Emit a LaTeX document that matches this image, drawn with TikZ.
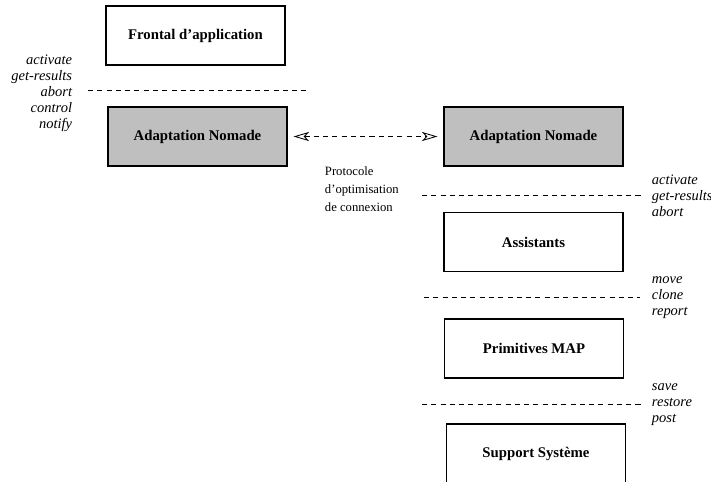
\documentclass[tikz,border=0pt]{standalone}
\usepackage{fontspec}
\setmainfont{Liberation Serif}
\usetikzlibrary{arrows.meta}

\tikzset{
    couche/.style={draw, line width=.8pt, minimum width=4.475cm, minimum height=1.475cm,
        font=\fontsize{10.5}{12}\selectfont\bfseries},
    nomade/.style={couche, fill=gray!50},
    separation/.style={dashed, dash pattern=on 3.6pt off 3pt, line width=.6pt},
    primitives/.style={font=\fontsize{10.3}{11.3}\selectfont\itshape},
    pointe/.tip={Stealth[open, length=11pt, width=6.5pt, inset=3pt, line width=.6pt]},
}

\begin{document}
\begin{tikzpicture}[x=.025cm, y=-.025cm]
    \useasboundingbox (0,0) rectangle (711,481);
    \clip (0,0) rectangle (711,481);

    % Poste client.
    \node[couche] (frontal) at (195.5,35.5) {Frontal d'application};
    \node[nomade] (nomadeG) at (197.5,136.5) {Adaptation Nomade};
    \draw[separation] (88,90) -- (306,90);
    \node[primitives, align=right, anchor=east] (appelsG) at (77,93)
        {activate\\get-results\\abort\\control\\notify};

    % Serveur.
    \node[nomade] (nomadeD) at (533.5,136.5) {Adaptation Nomade};
    \node[couche] (assistants) at (533.5,242) {Assistants};
    \node[couche] (map) at (534,348.5) {Primitives MAP};
    \node[couche] (systeme) at (536,453.5) {Support Système};

    \draw[separation] (422,195) -- (642,195);
    \draw[separation] (424,297) -- (640,297);
    \draw[separation] (422,404) -- (641,404);
    \node[primitives, align=left, anchor=west] (appelsD) at (647,196)
        {activate\\get-results\\abort};
    \node[primitives, align=left, anchor=west] (appelsMAP) at (647,298)
        {move\\clone\\report};
    \node[primitives, align=left, anchor=west] (appelsSys) at (647,405)
        {save\\restore\\post};

    % Protocole entre les deux adaptations.
    \draw[separation, pointe-pointe, shorten <=4.3pt, shorten >=4.3pt]
        (nomadeG) -- (nomadeD);
    \node[font=\fontsize{9}{12.8}\selectfont, align=left, anchor=west] (protocole) at (320,189)
        {Protocole\\d'optimisation\\de connexion};
\end{tikzpicture}
\end{document}
